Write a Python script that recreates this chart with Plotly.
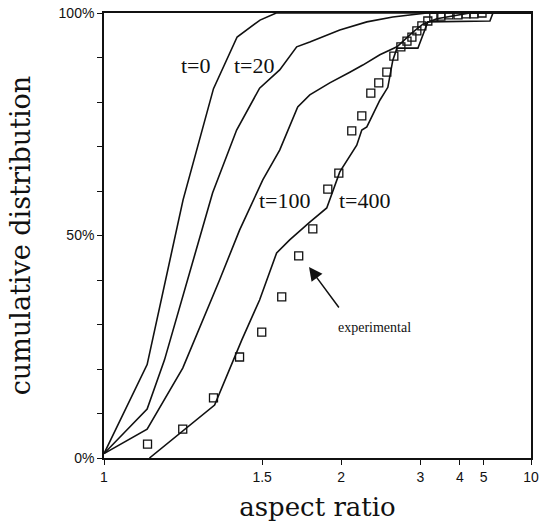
import numpy as np
import plotly.graph_objects as go

# ---- data (aspect ratio, cumulative %) ----
t0_x = [1.0, 1.1, 1.2, 1.3, 1.39, 1.49, 1.57, 10.0]
t0_y = [1, 21, 58, 83, 94.6, 98.4, 100, 100]

t20_x = [1.0, 1.1, 1.146, 1.297, 1.388, 1.488, 1.588, 1.684, 1.766, 1.988, 2.242, 2.556, 3.13, 10.0]
t20_y = [1, 11.0, 22.0, 59.6, 73.7, 83.1, 87.2, 92.4, 93.5, 96.2, 98.0, 99.1, 100, 100]

t100_x = [1.0, 1.1, 1.199, 1.322, 1.40, 1.503, 1.588, 1.69, 1.766, 1.908, 2.075, 2.2, 2.389, 2.614,
          2.866, 3.05, 3.35, 4.37, 10.0]
t100_y = [1, 6.5, 20.2, 40.0, 51.2, 62.5, 69.2, 78.9, 81.6, 84.3, 86.7, 88.3, 90.6, 92.4,
          95.7, 97.5, 98.7, 100, 100]

t400_x = [1.106, 1.304, 1.409, 1.488, 1.572, 1.643, 1.766, 1.885, 1.988, 2.14, 2.19, 2.242, 2.389,
          2.489, 2.556, 2.614, 2.955, 3.086, 3.15, 5.36, 5.55, 10.0]
t400_y = [0, 11.9, 26.5, 35.5, 46.1, 49.0, 53.0, 56.2, 64.3, 70.3, 73.7, 74.4, 80.4,
          83.3, 89.4, 92.1, 92.1, 96.2, 98.0, 98.2, 100, 100]

exp_x = [1.101, 1.199, 1.30, 1.40, 1.498, 1.599, 1.696, 1.786, 1.893, 1.98, 2.093, 2.19, 2.285,
         2.376, 2.476, 2.57, 2.672, 2.767, 2.849, 2.936, 3.03, 3.15, 3.28, 3.45, 3.66, 3.94,
         4.22, 4.54, 4.92]
exp_y = [3.1, 6.5, 13.5, 22.7, 28.3, 36.2, 45.4, 51.5, 60.4, 64.0, 73.5, 76.9, 82.0,
         84.3, 86.7, 90.3, 92.4, 93.7, 94.6, 96.0, 97.1, 98.2, 99.1, 99.3, 99.6, 99.6,
         99.8, 99.8, 100]

x_ticks = [1, 1.5, 2, 3, 4, 5, 10]
x_tick_labels = ["1", "1.5", "2", "3", "4", "5", "10"]
y_ticks = [0, 10, 20, 30, 40, 50, 60, 70, 80, 90, 100]
y_tick_labels = ["0%", "", "", "", "", "50%", "", "", "", "", "100%"]


def scale(v):
    # reciprocal aspect-ratio axis used by the original figure: position ~ 1 - 1/x
    return 1.0 - 1.0 / np.asarray(v, dtype=float)


fig = go.Figure()
line_style = dict(color="#111111", width=1.6)
for xs, ys in [(t0_x, t0_y), (t20_x, t20_y), (t100_x, t100_y), (t400_x, t400_y)]:
    fig.add_trace(go.Scatter(x=scale(xs), y=ys, mode="lines", line=line_style,
                             showlegend=False, hoverinfo="skip"))

fig.add_trace(go.Scatter(x=scale(exp_x), y=exp_y, mode="markers",
                         marker=dict(symbol="square-open", size=8, color="#111111",
                                     line=dict(width=1.3, color="#111111")),
                         showlegend=False))

serif = "Liberation Serif, Times New Roman, serif"
title_serif = "DejaVu Serif, serif"
sans = "Liberation Sans, Arial, sans-serif"

W0, H0 = 104.0, 458.0
PW, PH = 427.0, 445.0


def px(xp, yp):
    return (xp - W0) / PW, (H0 - yp) / PH


labels = [("t=0", 196, 65), ("t=20", 254, 65), ("t=100", 285, 200), ("t=400", 365, 200)]
for txt, xp, yp in labels:
    x, y = px(xp, yp)
    fig.add_annotation(x=x, y=y, xref="paper", yref="paper", text=txt, showarrow=False,
                       xanchor="center", yanchor="middle",
                       font=dict(family=serif, size=22, color="#111111"))

x, y = px(374, 327)
fig.add_annotation(x=x, y=y, xref="paper", yref="paper", text="experimental", showarrow=False,
                   xanchor="center", yanchor="middle",
                   font=dict(family=serif, size=14, color="#111111"))

x, y = px(309, 267)
fig.add_annotation(x=x, y=y, xref="paper", yref="paper", text="", showarrow=True,
                   ax=31, ay=42, arrowhead=2, arrowsize=1.8, arrowwidth=1.5,
                   arrowcolor="#111111", standoff=0)

fig.update_xaxes(range=[0, 0.9], tickvals=scale(x_ticks), ticktext=x_tick_labels,
                 showline=True, linecolor="#111111", linewidth=1.6, mirror=True,
                 ticks="outside", ticklen=5, tickcolor="#111111", showgrid=False,
                 zeroline=False, automargin=False,
                 tickfont=dict(family=sans, size=14, color="#111111"),
                 title=dict(text="aspect ratio",
                            font=dict(family=title_serif, size=26, color="#111111"),
                            standoff=14))
fig.update_yaxes(range=[0, 100], tickvals=y_ticks, ticktext=y_tick_labels,
                 showline=True, linecolor="#111111", linewidth=1.6, mirror=True,
                 ticks="outside", ticklen=5, tickcolor="#111111", showgrid=False,
                 zeroline=False, automargin=False,
                 tickfont=dict(family=sans, size=14, color="#111111"),
                 title=dict(text="cumulative distribution",
                            font=dict(family=title_serif, size=27, color="#111111"),
                            standoff=20))

fig.update_layout(width=554, height=528, margin=dict(l=104, r=23, t=13, b=70),
                  paper_bgcolor="white", plot_bgcolor="white")

fig.write_html("out.html")
